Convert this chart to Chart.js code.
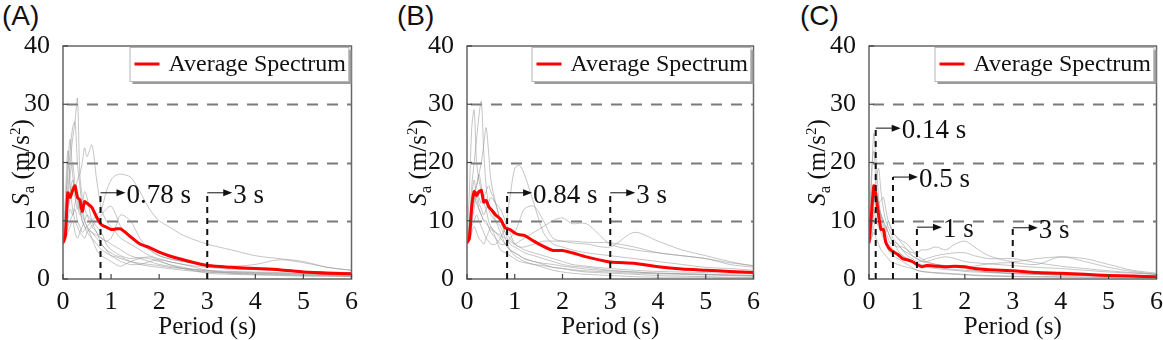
<!DOCTYPE html>
<html>
<head>
<meta charset="utf-8">
<script src="https://cdn.jsdelivr.net/npm/chart.js@4/dist/chart.umd.min.js"></script>
<style>
  body { margin: 0; background: #fff; }
  #wrap { position: relative; width: 1163px; height: 340px; overflow: hidden; }
  canvas { position: absolute; top: 0; }
  .tag { position: absolute; top: 0px; font: 28px "Liberation Sans", Arial, sans-serif; color: #111; }
</style>
</head>
<body>
<div id="wrap">
  <div class="tag" style="left:2px">(A)</div>
  <div class="tag" style="left:397px">(B)</div>
  <div class="tag" style="left:800px">(C)</div>
  <canvas id="cA" width="358" height="340" style="left:0px"></canvas>
  <canvas id="cB" width="356" height="340" style="left:404px"></canvas>
  <canvas id="cC" width="357" height="340" style="left:806px"></canvas>
</div>
<script>
// periods (s) shared by all records
const period = [0, 0.05, 0.1, 0.15, 0.2, 0.25, 0.3, 0.35, 0.4, 0.45, 0.5, 0.6, 0.7, 0.8, 0.9, 1.0,
  1.1, 1.2, 1.4, 1.6, 1.8, 2.0, 2.2, 2.5, 3.0, 3.5, 4.0, 4.5, 5.0, 5.5, 6.0];

// (A) average + single records
const avgA = [6.2, 7.5, 14.8, 14.0, 15.2, 16.0, 14.0, 13.6, 11.6, 13.3, 13.0, 12.3, 10.6, 9.3, 8.9, 8.5,
  8.6, 8.6, 7.3, 6.0, 5.4, 4.6, 4.0, 3.3, 2.3, 2.0, 1.8, 1.6, 1.2, 1.0, 0.9];
const recordsA = [
  [6, 9, 15, 20, 24, 27, 31, 18, 14, 12, 11, 9, 8, 6, 5, 4.5, 4, 3.8, 3, 2.5, 2.2, 2, 1.8, 1.5, 1.2, 1.1, 1, 0.9, 0.8, 0.7, 0.6],
  [6, 10, 18, 22, 26, 27, 20, 16, 13, 15, 14, 10, 8, 7, 6.5, 6, 5.5, 5, 4, 3.5, 3, 2.5, 2.2, 1.8, 1.4, 1.2, 1.1, 1, 0.9, 0.8, 0.7],
  [6, 8, 12, 14, 16, 15, 17, 18, 20, 22.5, 21, 23, 17, 12, 10, 9, 8, 7, 6, 5, 4, 3.5, 3, 2.5, 2, 1.7, 1.6, 1.5, 1.3, 1.2, 1],
  [6, 7, 9, 10, 11, 12, 10, 9, 8, 8.5, 9, 10, 11, 12, 15, 17, 17.8, 18, 17.5, 15, 12, 10, 9, 7.5, 6, 5, 4, 3.5, 3, 2, 1.5],
  [6, 12, 20, 24, 18, 15, 14, 12, 10, 9, 8, 7, 6, 5, 4.5, 4, 3.8, 3.5, 3, 2.7, 2.5, 2.3, 2, 1.8, 1.5, 1.3, 1.2, 1.1, 1, 0.9, 0.8],
  [6, 14, 22, 16, 12, 10, 9, 8, 7.5, 7, 8, 9, 10, 11, 12, 12.5, 11, 9, 7, 6, 5, 4, 3.5, 3, 2.5, 2.2, 2.5, 3.3, 2.8, 2, 1.5],
  [6, 8, 13, 15, 17, 14, 12, 13, 11, 10, 9, 8, 7, 6, 5, 4, 3.5, 3, 2.5, 2.5, 3, 3.3, 3, 2.5, 1.5, 1, 0.8, 0.7, 0.6, 0.5, 0.5],
  [6, 7, 10, 12, 11, 13, 15, 12, 10, 9, 8.5, 8, 7.5, 7, 6.5, 7, 9, 11, 10, 7, 5, 4, 3.5, 3, 2.5, 2, 1.7, 1.5, 1.3, 1.2, 1.1],
  [6, 6.5, 8, 9, 10, 8, 7, 8, 9, 10, 11, 10, 9, 8, 6, 5, 4.5, 4, 3.5, 3.7, 3.5, 3, 2.5, 2, 1.2, 1, 0.9, 0.8, 0.7, 0.6, 0.5],
  [6, 9, 13, 18, 20, 16, 13, 11, 12, 10, 9, 7, 5, 4, 3.5, 3, 2.5, 2.2, 3, 3.5, 3.8, 3.2, 2.5, 1.8, 1.0, 0.8, 0.7, 0.6, 0.5, 0.5, 0.4]
];

// (B)
const avgB = [6.2, 7, 12.5, 15, 14.3, 15, 15.2, 13.2, 13.5, 12.5, 12, 11, 10.3, 8.8, 8.5, 7.9,
  7.6, 7.5, 6.5, 5.6, 4.9, 4.9, 4.5, 3.8, 2.9, 2.7, 2.1, 1.7, 1.5, 1.3, 1.1];
const recordsB = [
  [6, 10, 16, 20, 24, 28, 30.5, 22, 16, 13, 12, 10, 8, 6, 5, 4.5, 4, 3.5, 3, 2.5, 2, 1.8, 1.6, 1.4, 1.2, 1, 0.9, 0.8, 0.7, 0.6, 0.5],
  [6, 15, 26, 29, 20, 17, 15, 13, 12, 10, 9, 8, 7, 6, 5, 4.5, 4, 3.5, 3, 2.7, 2.5, 2.2, 2, 1.7, 1.4, 1.2, 1, 0.9, 0.8, 0.7, 0.6],
  [6, 8, 12, 14, 16, 18, 20, 23, 26, 22, 17, 13, 10, 8, 7, 6, 5.5, 5, 4.5, 4, 3.5, 3, 2.5, 2.2, 1.8, 1.5, 1.3, 1.2, 1.1, 1, 0.9],
  [6, 7, 9, 10, 11, 10, 9, 8, 7, 6.5, 6, 6, 7, 9, 14, 19, 19.5, 18, 13, 8, 6, 5.5, 5, 4.5, 4, 3.5, 3, 2.5, 2, 1.8, 1.5],
  [6, 8, 12, 14, 13, 12, 11, 10, 9.5, 9, 8.5, 8, 7.5, 7, 6.5, 6, 6.5, 7, 8, 9, 10, 10.5, 9.5, 9.5, 6, 5, 4.5, 4, 3.5, 2.5, 2],
  [6, 9, 14, 17, 14, 12, 11, 10, 10, 9, 8, 7, 6, 6, 7, 8, 10, 12, 12.5, 10, 7, 6.5, 6.2, 6, 5.5, 8, 6.5, 5, 4, 3, 2.2],
  [6, 7, 10, 12, 15, 13, 12, 11, 12, 13, 14, 13, 12, 10, 8, 6, 5.5, 5.5, 6, 6.5, 6.5, 6.5, 6.5, 6.3, 6.2, 5.5, 4.5, 4, 3.5, 2.8, 2.3],
  [6, 6.5, 8, 9, 8, 7, 6.5, 6, 7, 8, 9, 7, 5, 4.5, 4, 3.5, 3, 2.8, 2.5, 2.3, 2, 1.8, 1.5, 1.2, 1, 0.8, 0.6, 0.5, 0.4, 0.3, 0.3],
  [6, 8, 11, 13, 15, 14, 13, 14, 15, 16, 15, 13, 10, 8, 6, 5.5, 5, 4.5, 4, 3.5, 3, 2.5, 2.2, 2, 1.5, 1.2, 1, 0.9, 0.8, 0.7, 0.6],
  [6, 9, 12, 15, 16, 18, 16, 14, 13, 12, 11, 10, 9, 7, 5, 4, 3.5, 3, 2.5, 2, 1.5, 1.2, 1, 0.8, 0.6, 0.4, 0.3, 0.3, 0.3, 0.2, 0.2]
];

// (C)
const avgC = [6.2, 11, 16, 14, 11, 8.5, 8.5, 6.3, 5.5, 5, 4.7, 4.2, 3.5, 3.3, 3.0, 2.5,
  2.1, 2.3, 2.2, 2.1, 2.2, 2.1, 1.8, 1.6, 1.4, 1.1, 1.0, 0.8, 0.6, 0.5, 0.4];
const recordsC = [
  [6, 16, 25, 20, 14, 10, 8, 7, 6, 5.5, 5, 4.5, 4, 3.5, 3, 2.7, 2.5, 2.3, 2, 1.8, 1.6, 1.5, 1.4, 1.2, 1, 0.8, 0.7, 0.6, 0.5, 0.4, 0.3],
  [6, 18, 22, 16, 12, 11, 10, 8, 7, 6, 6.5, 5, 4, 3.5, 3, 2.5, 2.2, 2, 1.8, 1.6, 1.5, 1.3, 1.2, 1.1, 0.9, 0.8, 0.7, 0.6, 0.5, 0.4, 0.3],
  [6, 10, 15, 17, 19, 15, 12, 10, 9, 8, 7, 6, 5, 4, 3.5, 3, 3, 3, 3.5, 3.8, 3.5, 3, 2.8, 2.6, 2.3, 2, 1.8, 1.5, 1.2, 1, 0.8],
  [6, 8, 11, 12, 13, 13.5, 14, 12, 10, 9, 8, 7, 6, 5, 4.5, 4.5, 5, 5, 5.5, 5, 6, 6.5, 5.5, 4, 3, 3.5, 3.8, 3.5, 2.5, 1.5, 1],
  [6, 9, 13, 15, 13, 11, 9, 8, 10, 9, 8, 7, 6.5, 6, 5, 4, 3.5, 3, 2.5, 2.2, 2, 2, 2.2, 2.6, 2.8, 2.5, 3.8, 3, 2, 1.3, 0.8],
  [6, 7, 9, 10, 12, 11, 10, 9, 8, 7, 6, 5.5, 5.5, 5, 4, 3.5, 3, 2.8, 2.5, 2.3, 2, 1.8, 1.5, 1.2, 1, 0.8, 0.7, 0.6, 0.5, 0.4, 0.3],
  [6, 7, 8, 7, 6, 5, 4.5, 4, 3.5, 3, 2.8, 2.5, 2.2, 2, 1.8, 1.5, 1.3, 1.2, 1, 0.9, 0.8, 0.7, 0.6, 0.5, 0.4, 0.35, 0.3, 0.3, 0.25, 0.2, 0.2],
  [6, 10, 14, 12, 10, 9, 8, 9, 8, 7, 6.5, 6, 5, 4.5, 4, 3.5, 3.2, 3.5, 4, 4.3, 4.5, 4.5, 4, 3.5, 3.5, 2.8, 2.2, 1.8, 1.4, 1.1, 0.8],
  [6, 8, 12, 10, 9, 8, 7, 6, 5, 4.5, 4, 3.5, 3, 2.5, 2, 1.5, 1.3, 1.2, 1.1, 1, 0.9, 0.8, 0.7, 0.6, 0.5, 0.45, 0.4, 0.35, 0.3, 0.3, 0.25]
];

// period markers: position, height of dashed line, label
const marksA = { t: [0.78, 3], h: [14.8, 14.8], label: ['0.78 s', '3 s'] };
const marksB = { t: [0.84, 3], h: [14.8, 14.8], label: ['0.84 s', '3 s'] };
const marksC = { t: [0.14, 0.5, 1, 3], h: [25.9, 17.5, 8.9, 8.8], label: ['0.14 s', '0.5 s', '1 s', '3 s'] };

const xTicks = [0, 1, 2, 3, 4, 5, 6];
const yTicks = [0, 10, 20, 30, 40];

const SERIF = '"Liberation Serif", "Times New Roman", serif';

const decorPlugin = {
  id: 'decor',
  beforeDatasetsDraw(chart) {
    const { ctx, chartArea: a, scales: { y } } = chart;
    ctx.save();
    ctx.strokeStyle = '#7a7a7a';
    ctx.lineWidth = 2;
    ctx.setLineDash([11, 9]);
    [10, 20, 30].forEach(v => {
      const py = Math.round(y.getPixelForValue(v)) + 0.5;
      ctx.beginPath();
      ctx.moveTo(a.left + 4, py);
      ctx.lineTo(a.right, py);
      ctx.stroke();
    });
    ctx.restore();
  },
  afterDatasetsDraw(chart, args, opts) {
    const { ctx, chartArea: a, scales: { x, y } } = chart;
    ctx.save();
    // frame
    ctx.strokeStyle = '#666';
    ctx.lineWidth = 1.5;
    ctx.setLineDash([]);
    ctx.strokeRect(a.left, a.top, a.right - a.left, a.bottom - a.top);
    // inward ticks
    ctx.strokeStyle = '#444';
    ctx.lineWidth = 1.2;
    xTicks.forEach(v => {
      const px = x.getPixelForValue(v);
      ctx.beginPath(); ctx.moveTo(px, a.bottom); ctx.lineTo(px, a.bottom - 5); ctx.stroke();
    });
    yTicks.forEach(v => {
      const py = y.getPixelForValue(v);
      ctx.beginPath(); ctx.moveTo(a.left, py); ctx.lineTo(a.left + 5, py); ctx.stroke();
    });

    // period markers
    const m = opts.marks;
    m.t.forEach((t, i) => {
      const px = x.getPixelForValue(t);
      const py = y.getPixelForValue(m.h[i]);
      ctx.strokeStyle = '#111';
      ctx.lineWidth = 2;
      ctx.setLineDash([6, 5]);
      ctx.beginPath(); ctx.moveTo(px, a.bottom); ctx.lineTo(px, py); ctx.stroke();
      ctx.setLineDash([]);
      ctx.lineWidth = 1;
      ctx.beginPath(); ctx.moveTo(px, py); ctx.lineTo(px + 17, py); ctx.stroke();
      ctx.fillStyle = '#111';
      ctx.beginPath();
      ctx.moveTo(px + 25, py);
      ctx.lineTo(px + 16, py - 3.5);
      ctx.lineTo(px + 16, py + 3.5);
      ctx.closePath(); ctx.fill();
      ctx.font = '27px ' + SERIF;
      ctx.textBaseline = 'middle';
      ctx.textAlign = 'left';
      ctx.fillText(m.label[i], px + 26, py + 3);
    });

    // legend box
    const lx = a.right - 222, ly = a.top + 1, lw = 219, lh = 34;
    ctx.fillStyle = '#9a9a9a';
    ctx.fillRect(lx + 3, ly + 3, lw, lh);
    ctx.fillStyle = '#fff';
    ctx.fillRect(lx, ly, lw, lh);
    ctx.strokeStyle = '#b5b5b5';
    ctx.lineWidth = 1;
    ctx.strokeRect(lx + 0.5, ly + 0.5, lw, lh);
    ctx.strokeStyle = '#ff0000';
    ctx.lineWidth = 3;
    ctx.beginPath(); ctx.moveTo(lx + 5, ly + 17); ctx.lineTo(lx + 30, ly + 17); ctx.stroke();
    ctx.fillStyle = '#111';
    ctx.font = '24px ' + SERIF;
    ctx.textBaseline = 'middle';
    ctx.fillText('Average Spectrum', lx + 39, ly + 18);

    // x title
    ctx.textAlign = 'center';
    ctx.font = '25px ' + SERIF;
    ctx.fillText('Period (s)', (a.left + a.right) / 2, 327);

    // y title: S_a (m/s^2)
    ctx.translate(a.left - opts.titleGap, (a.top + a.bottom) / 2);
    ctx.rotate(-Math.PI / 2);
    const parts = [
      { t: 'S', f: 'italic 25px ' + SERIF, dy: 0 },
      { t: 'a', f: '17px ' + SERIF, dy: 5 },
      { t: ' (m/s', f: '25px ' + SERIF, dy: 0 },
      { t: '2', f: '15px ' + SERIF, dy: -9 },
      { t: ')', f: '25px ' + SERIF, dy: 0 }
    ];
    let total = 0;
    parts.forEach(p => { ctx.font = p.f; p.w = ctx.measureText(p.t).width; total += p.w; });
    let cx = -total / 2;
    ctx.textAlign = 'left';
    ctx.textBaseline = 'alphabetic';
    parts.forEach(p => { ctx.font = p.f; ctx.fillText(p.t, cx, 8 + p.dy); cx += p.w; });
    ctx.restore();
  }
};

function makePanel(id, avg, records, marks, titleGap) {
  const datasets = [{
    data: avg.map((v, i) => ({ x: period[i], y: v })),
    borderColor: '#ff0000',
    borderWidth: 3,
    pointRadius: 0,
    tension: 0.2,
    order: 0
  }];
  records.forEach(r => {
    datasets.push({
      data: r.map((v, i) => ({ x: period[i], y: v })),
      borderColor: 'rgba(150,150,150,0.55)',
      borderWidth: 1,
      pointRadius: 0,
      tension: 0.3,
      order: 1
    });
  });
  return new Chart(document.getElementById(id), {
    type: 'line',
    data: { datasets },
    options: {
      responsive: false,
      animation: false,
      layout: { padding: { top: 46, right: 5, left: 0, bottom: 0 } },
      plugins: {
        legend: { display: false },
        tooltip: { enabled: false },
        decor: { marks, titleGap }
      },
      scales: {
        x: {
          type: 'linear', min: 0, max: 6,
          afterBuildTicks: s => { s.ticks = xTicks.map(v => ({ value: v })); },
          afterFit: s => { s.height = 61; },
          grid: { display: false },
          border: { display: false },
          ticks: { color: '#111', font: { family: SERIF, size: 26 }, padding: 0, maxRotation: 0 }
        },
        y: {
          type: 'linear', min: 0, max: 40,
          afterBuildTicks: s => { s.ticks = yTicks.map(v => ({ value: v })); },
          afterFit: s => { s.width = 63; },
          grid: { display: false },
          border: { display: false },
          ticks: { color: '#111', font: { family: SERIF, size: 26 }, padding: 5 }
        }
      }
    },
    plugins: [decorPlugin]
  });
}

makePanel('cA', avgA, recordsA, marksA, 42);
makePanel('cB', avgB, recordsB, marksB, 49);
makePanel('cC', avgC, recordsC, marksC, 52);
</script>
</body>
</html>
